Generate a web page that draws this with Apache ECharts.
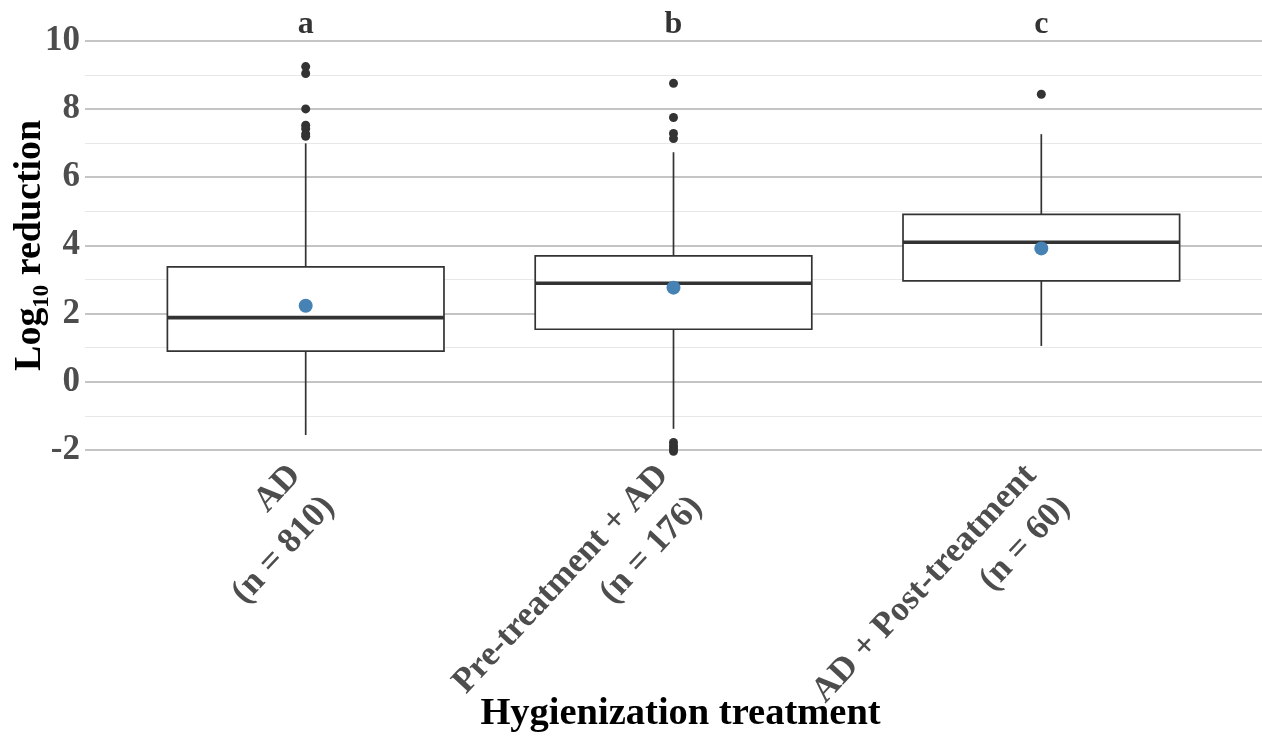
<!DOCTYPE html>
<html>
<head>
<meta charset="utf-8">
<script src="https://cdn.jsdelivr.net/npm/echarts@6/dist/echarts.min.js"></script>
<style>
html,body{margin:0;padding:0;background:#fff;}
#chart{width:1262px;height:738px;}
</style>
</head>
<body>
<div id="chart"></div>
<script>
// ---- data ----
const categories = ['AD\n(n = 810)', 'Pre-treatment + AD\n(n = 176)', 'AD + Post-treatment\n(n = 60)'];
const letters = ['a', 'b', 'c'];
const whiskerLow = [-1.56, -1.38, 1.05];
const q1 = [0.90, 1.54, 2.96];
const median = [1.88, 2.89, 4.09];
const q3 = [3.37, 3.69, 4.91];
const whiskerHigh = [6.99, 6.73, 7.26];
const means = [2.23, 2.76, 3.91];
const outliersAD = [9.24, 9.04, 8.0, 7.52, 7.42, 7.27, 7.2];
const outliersPre = [8.75, 7.75, 7.28, 7.13, -1.78, -1.88, -1.96, -2.04];
const outliersPost = [8.43];
const letterY = 10.46;

const FONT = "'Liberation Serif', 'Times New Roman', serif";
const BOX_HALF = 0.376;

const boxData = categories.map((c, i) => [i + 1, whiskerLow[i], q1[i], median[i], q3[i], whiskerHigh[i]]);
const meanData = means.map((m, i) => [i + 1, m]);
const outlierData = [];
[outliersAD, outliersPre, outliersPost].forEach((arr, i) => arr.forEach(v => outlierData.push([i + 1, v])));
const letterData = letters.map((l, i) => [i + 1, letterY, l]);

const labelText = v => {
  const c = categories[Math.round(v) - 1];
  return '{sp| }\n' + c.split('\n').map(s => '{t|' + s + '}').join('\n');
};

const chart = echarts.init(document.getElementById('chart'), null, {renderer: 'canvas'});
chart.setOption({
  animation: false,
  backgroundColor: '#ffffff',
  grid: {left: 85, right: 0, top: 40.7, bottom: 288, containLabel: false, outerBoundsMode: 'none'},
  xAxis: {
    type: 'value', min: 0.4, max: 3.6,
    name: '{n|Hygienization treatment}',
    nameLocation: 'middle', nameGap: 245, nameMoveOverlap: false,
    nameTextStyle: {fontFamily: FONT, fontWeight: 'bold', fontSize: 38.5, color: '#000',
      rich: {n: {fontFamily: FONT, fontWeight: 'bold', fontSize: 38.5, color: '#000', padding: [0, 0, 0, 14]}}},
    axisLine: {show: false}, axisTick: {show: false}, splitLine: {show: false},
    axisLabel: {
      customValues: [1, 2, 3],
      formatter: labelText,
      rotate: 47, margin: 30,
      rich: {
        sp: {fontSize: 10, lineHeight: 17},
        t: {fontFamily: FONT, fontWeight: 'bold', fontSize: 35, lineHeight: 46, color: '#4d4d4d'}
      }
    }
  },
  yAxis: {
    type: 'value', min: -2, max: 10, interval: 2,
    name: 'Log\u2081\u2080 reduction',
    nameLocation: 'middle', nameGap: 36, nameRotate: 90, nameMoveOverlap: false,
    nameTextStyle: {fontFamily: FONT, fontWeight: 'bold', fontSize: 38, color: '#000'},
    axisLine: {show: false}, axisTick: {show: false},
    axisLabel: {margin: 5, fontFamily: FONT, fontWeight: 'bold', fontSize: 35, color: '#4d4d4d'},
    splitLine: {show: true, lineStyle: {color: '#b0b0b0', width: 1.6}},
    minorTick: {show: false, splitNumber: 2},
    minorSplitLine: {show: true, lineStyle: {color: '#e8e8e8', width: 1.2}}
  },
  series: [
    {
      type: 'custom',
      data: boxData,
      clip: false,
      z: 2,
      renderItem: (params, api) => {
        const x = api.value(0);
        const lo = api.coord([x, api.value(1)]);
        const b1 = api.coord([x, api.value(2)]);
        const md = api.coord([x, api.value(3)]);
        const b3 = api.coord([x, api.value(4)]);
        const hi = api.coord([x, api.value(5)]);
        const hw = api.size([BOX_HALF, 0])[0];
        const s = {stroke: '#333333', lineWidth: 1.7};
        return {type: 'group', children: [
          {type: 'line', shape: {x1: lo[0], y1: lo[1], x2: b1[0], y2: b1[1]}, style: s},
          {type: 'line', shape: {x1: hi[0], y1: hi[1], x2: b3[0], y2: b3[1]}, style: s},
          {type: 'rect', shape: {x: b1[0] - hw, y: b3[1], width: 2 * hw, height: b1[1] - b3[1]}, style: {fill: '#ffffff', stroke: '#333333', lineWidth: 1.7}},
          {type: 'line', shape: {x1: md[0] - hw, y1: md[1], x2: md[0] + hw, y2: md[1]}, style: {stroke: '#333333', lineWidth: 3.6}}
        ]};
      }
    },
    {
      type: 'scatter', data: outlierData, symbolSize: 9, clip: false, z: 3,
      itemStyle: {color: '#333333', opacity: 1}
    },
    {
      type: 'scatter', data: meanData, symbolSize: 14, clip: false, z: 4,
      itemStyle: {color: '#4682b4', opacity: 1}
    },
    {
      type: 'scatter', data: letterData, symbolSize: 0, clip: false, z: 5,
      label: {show: true, position: 'inside', formatter: p => p.data[2],
        fontFamily: FONT, fontWeight: 'bold', fontSize: 32, color: '#000'}
    }
  ]
});
</script>
</body>
</html>
